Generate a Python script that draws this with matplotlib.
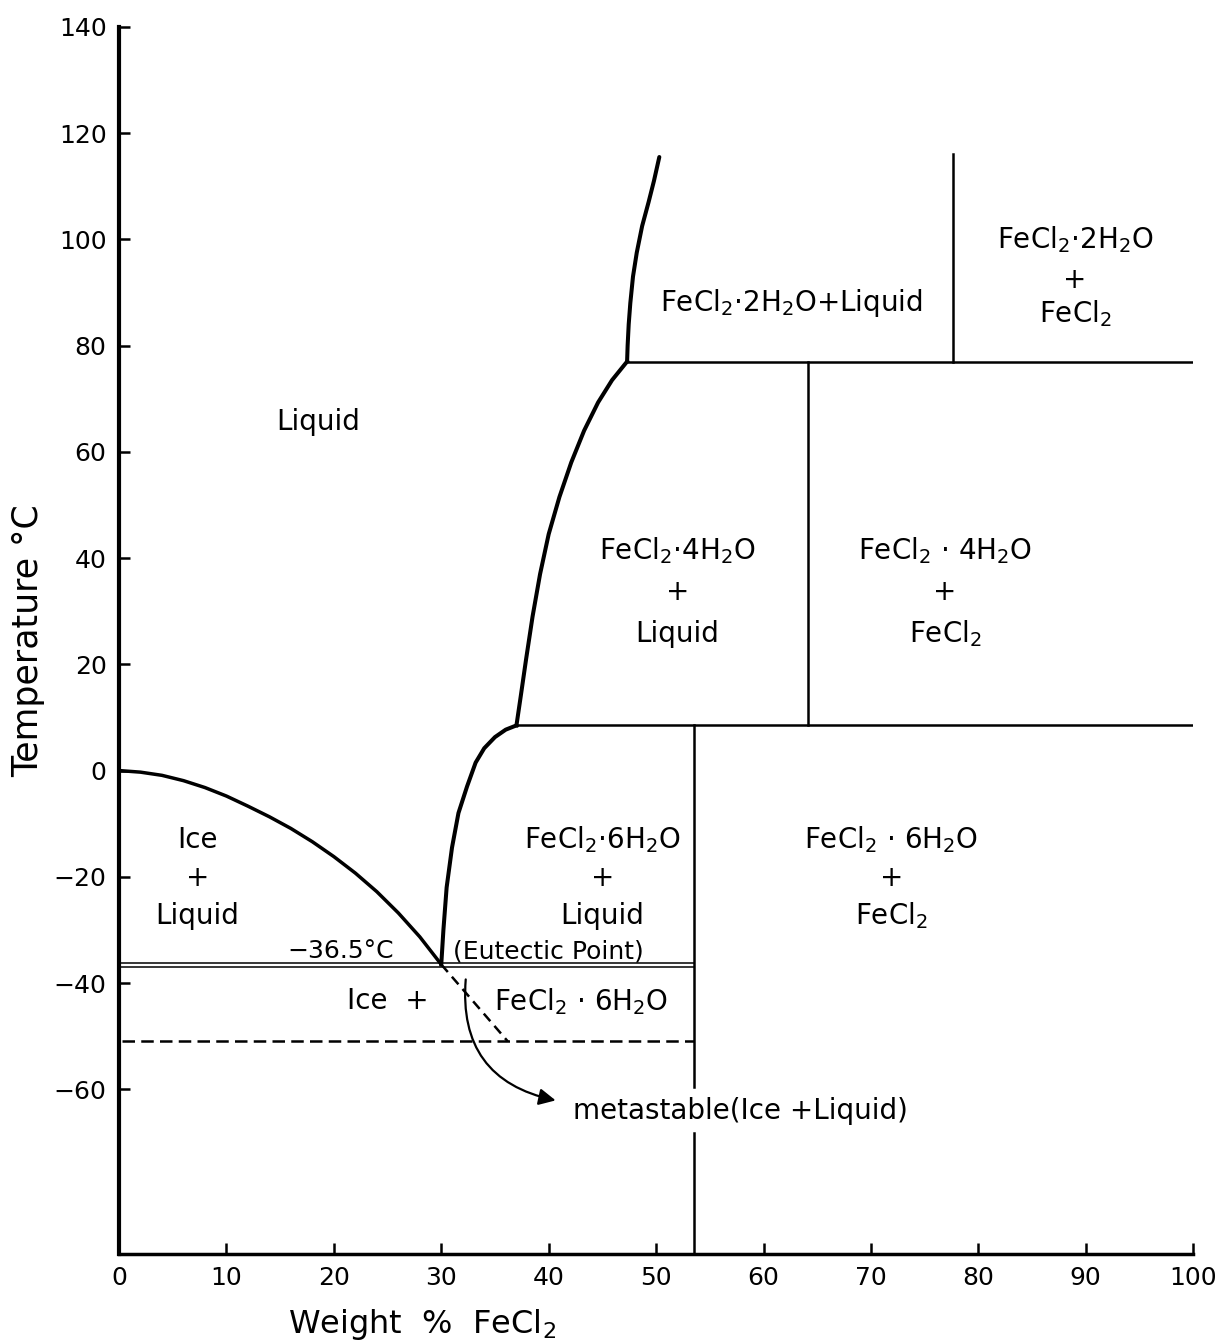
import matplotlib
matplotlib.use("Agg")
import matplotlib.pyplot as plt
from matplotlib.patches import FancyArrowPatch

plt.rcParams['font.family'] = ['DejaVu Sans']
plt.rcParams['mathtext.fontset'] = 'dejavusans'

# ---- data ----
ice_x = [0, 2, 4, 6, 8, 10, 12, 14, 16, 18, 20, 22, 24, 26, 28, 30]
ice_T = [0, -0.3, -0.9, -1.9, -3.2, -4.8, -6.7, -8.7, -10.9, -13.4, -16.2,
         -19.3, -22.8, -26.8, -31.3, -36.5]

hex_x = [30.0, 30.2, 30.5, 31.0, 31.6, 32.4, 33.2, 34.0, 35.0, 36.0, 37.0]
hex_T = [-36.5, -30, -22, -14.5, -8, -3, 1.5, 4.2, 6.3, 7.7, 8.5]

tetra_x = [37.0, 37.4, 37.9, 38.5, 39.2, 40.0, 41.0, 42.1, 43.3, 44.6, 45.9, 47.3]
tetra_T = [8.5, 14, 21, 29, 37, 44.5, 51.5, 58, 64, 69.3, 73.5, 77]

di_x = [47.3, 47.35, 47.45, 47.6, 47.85, 48.2, 48.7, 49.3, 49.8, 50.3]
di_T = [77, 80, 84, 88, 93, 97.5, 102.5, 107, 111, 115.5]

eutectic_T = -36.5
hexa_T = 8.5       # 6H2O -> 4H2O transition
tetra_top_T = 77   # 4H2O -> 2H2O transition
meta_T = -51       # metastable eutectic
meta_x = [30.0, 36.2]
meta_Tline = [-36.5, -51]

x_ticks = list(range(0, 101, 10))
y_ticks = list(range(-60, 141, 20))

fig = plt.figure(figsize=(12.22, 13.44), dpi=100)
ax = fig.add_axes([0.0974, 0.067, 0.879, 0.913])
ax.set_xlim(0, 100)
ax.set_ylim(-91, 140)

for s in ['top', 'right']:
    ax.spines[s].set_visible(False)
ax.spines['left'].set_linewidth(3)
ax.spines['bottom'].set_linewidth(2.5)

ax.set_xticks(x_ticks)
ax.set_yticks(y_ticks)
ax.tick_params(direction='in', length=8, width=1.8, labelsize=18, pad=9)
ax.set_xlabel(r"Weight  %  FeCl$_2$", fontsize=23, labelpad=12, x=0.282)
ax.set_ylabel("Temperature °C", fontsize=25, labelpad=6, y=0.5)

k = 'black'
thick = 2.9
thin = 1.8
# liquidus curves
ax.plot(ice_x, ice_T, color=k, lw=2.5, solid_capstyle='round')
ax.plot(hex_x, hex_T, color=k, lw=thick, solid_joinstyle='round')
ax.plot(tetra_x, tetra_T, color=k, lw=thick, solid_joinstyle='round')
ax.plot(di_x, di_T, color=k, lw=thick, solid_capstyle='round', solid_joinstyle='round')

# eutectic double line
ax.plot([0, 53.5], [eutectic_T + 0.35, eutectic_T + 0.35], color=k, lw=1.1)
ax.plot([0, 53.5], [eutectic_T - 0.55, eutectic_T - 0.55], color=k, lw=1.1)

# horizontal lines
ax.plot([37.0, 100], [hexa_T, hexa_T], color=k, lw=thin)
ax.plot([47.3, 100], [tetra_top_T, tetra_top_T], color=k, lw=thin)

# vertical lines
ax.plot([53.5, 53.5], [hexa_T, -59.5], color=k, lw=thin)
ax.plot([53.5, 53.5], [-68.2, -91], color=k, lw=thin)
ax.plot([64.1, 64.1], [hexa_T, tetra_top_T], color=k, lw=thin)
ax.plot([77.6, 77.6], [tetra_top_T, 116], color=k, lw=thin)

# metastable dashed lines
ax.plot([0.3, 53.5], [meta_T, meta_T], color=k, lw=1.8, ls=(0, (5, 2.5)))
ax.plot(meta_x, meta_Tline, color=k, lw=1.8, ls=(0, (4, 2.5)))

# curved arrow
arr = FancyArrowPatch((32.3, -38.8), (40.9, -62.2),
                      connectionstyle="arc3,rad=0.45",
                      arrowstyle="-|>,head_length=10,head_width=5",
                      color=k, lw=1.6)
ax.add_patch(arr)

fs = 20
def stack(x, lines, ys):
    for s, y in zip(lines, ys):
        ax.text(x, y, s, fontsize=fs, ha='center', va='center')

ax.text(18.5, 65.6, "Liquid", fontsize=fs, ha='center', va='center')
stack(7.3, ["Ice", "+", "Liquid"], [-13.0, -20.3, -27.3])
ax.text(20.6, -34.0, "−36.5°C", fontsize=18, ha='center', va='center')
ax.text(40.0, -34.0, "(Eutectic Point)", fontsize=18, ha='center', va='center')
ax.text(25.0, -43.4, "Ice  +", fontsize=fs, ha='center', va='center')
ax.text(43.0, -43.4, r"FeCl$_2$ · 6H$_2$O", fontsize=fs, ha='center', va='center')
ax.text(42.3, -64.0, "metastable(Ice +Liquid)", fontsize=fs, ha='left', va='center')

stack(45.0, [r"FeCl$_2$·6H$_2$O", "+", "Liquid"], [-13.0, -20.3, -27.3])
stack(71.9, [r"FeCl$_2$ · 6H$_2$O", "+", r"FeCl$_2$"], [-13.0, -20.3, -27.3])
stack(52.0, [r"FeCl$_2$·4H$_2$O", "+", "Liquid"], [41.5, 33.6, 25.8])
stack(76.9, [r"FeCl$_2$ · 4H$_2$O", "+", r"FeCl$_2$"], [41.5, 33.6, 25.8])
ax.text(62.6, 88.0, r"FeCl$_2$·2H$_2$O+Liquid", fontsize=fs, ha='center', va='center')
stack(89.0, [r"FeCl$_2$·2H$_2$O", "+", r"FeCl$_2$"], [100.0, 92.3, 86.0])

fig.savefig("out.png", dpi=100)
